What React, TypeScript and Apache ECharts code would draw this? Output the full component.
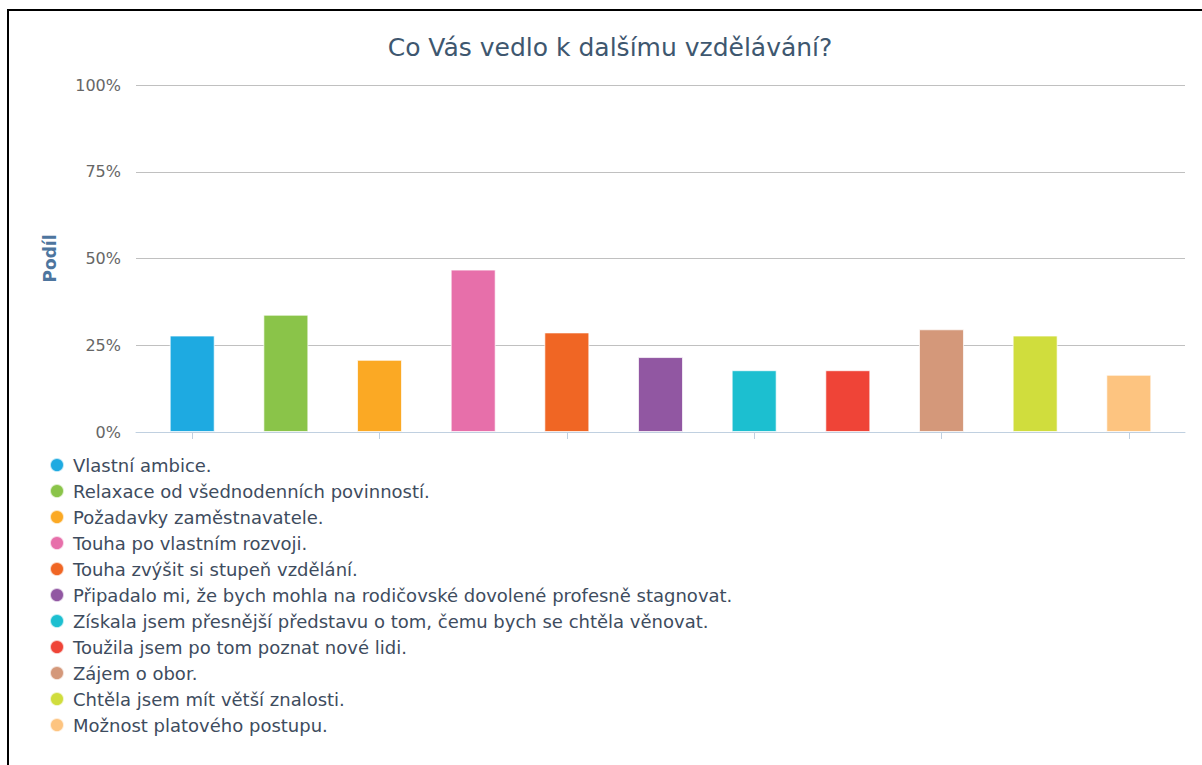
import React, { useEffect, useRef } from "react";
import * as echarts from "echarts";

const TITLE = "Co Vás vedlo k dalšímu vzdělávání?";
const Y_NAME = "Podíl";
const categories = [
  "Vlastní ambice.",
  "Relaxace od všednodenních povinností.",
  "Požadavky zaměstnavatele.",
  "Touha po vlastním rozvoji.",
  "Touha zvýšit si stupeň vzdělání.",
  "Připadalo mi, že bych mohla na rodičovské dovolené profesně stagnovat.",
  "Získala jsem přesnější představu o tom, čemu bych se chtěla věnovat.",
  "Toužila jsem po tom poznat nové lidi.",
  "Zájem o obor.",
  "Chtěla jsem mít větší znalosti.",
  "Možnost platového postupu.",
];
const values = [27.8, 33.8, 20.8, 46.8, 28.7, 21.6, 17.8, 17.8, 29.6, 27.8, 16.5];
const yTicks = [0, 25, 50, 75, 100];
const xTickValues = [0, 2, 4, 6, 8, 10];
const palette = [
  "#1EAAE1",
  "#8AC449",
  "#FBA924",
  "#E76FAA",
  "#F06624",
  "#9157A2",
  "#1CBFD0",
  "#EF4437",
  "#D4987A",
  "#D0DD3D",
  "#FDC480",
];

const FONT = "DejaVu Sans, sans-serif";

export default function App() {
  const ref = useRef<HTMLDivElement>(null);
  useEffect(() => {
    if (!ref.current) return;
    const chart = echarts.init(ref.current, null, { renderer: "svg" });
    chart.setOption({
      animation: false,
      backgroundColor: "#ffffff",
      title: {
        text: TITLE,
        left: 605,
        textAlign: "center",
        top: 30,
        textStyle: {
          fontFamily: FONT,
          fontSize: 25,
          fontWeight: "normal",
          color: "#3E576F",
        },
      },
      legend: {
        orient: "vertical",
        left: 49,
        top: 456,
        padding: 0,
        icon: "circle",
        itemWidth: 14,
        itemHeight: 14,
        itemGap: 8,
        data: categories,
        textStyle: {
          fontFamily: FONT,
          fontSize: 18,
          lineHeight: 18,
          color: "#3E4C5E",
          padding: [0, 0, 0, 4],
        },
      },
      grid: {
        left: 136,
        right: 17,
        top: 85,
        bottom: 333,
        containLabel: false,
      },
      xAxis: {
        type: "value",
        min: -0.6,
        max: 10.6,
        axisLabel: { show: false },
        splitLine: { show: false },
        axisLine: { show: true, lineStyle: { color: "#C0D0E0", width: 1 } },
        axisTick: {
          show: true,
          customValues: xTickValues,
          length: 7,
          lineStyle: { color: "#C0D0E0" },
        },
      },
      yAxis: {
        type: "value",
        min: yTicks[0],
        max: yTicks[yTicks.length - 1],
        interval: 25,
        name: Y_NAME,
        nameLocation: "middle",
        nameGap: 78,
        nameTextStyle: {
          fontFamily: FONT,
          fontSize: 17,
          fontWeight: "bold",
          color: "#4D759E",
        },
        axisLine: { show: false },
        axisTick: { show: false },
        axisLabel: {
          formatter: "{value}%",
          fontFamily: FONT,
          fontSize: 16,
          color: "#666666",
          margin: 15,
        },
        splitLine: { lineStyle: { color: "#C0C0C0", width: 1 } },
      },
      series: categories.map((name, i) => ({
        name,
        type: "bar",
        barWidth: 45,
        barGap: "-100%",
        data: [[i, values[i]]],
        itemStyle: {
          color: palette[i],
          borderColor: "rgba(255,255,255,0.7)",
          borderWidth: 1,
        },
      })),
    });
    return () => chart.dispose();
  }, []);
  return (
    <>
      <div
        ref={ref}
        style={{ position: "fixed", left: 0, top: 0, width: 1202, height: 765 }}
      />
      <div
        style={{
          position: "fixed",
          left: 7,
          top: 9,
          width: 1400,
          height: 1000,
          border: "2px solid #000",
          pointerEvents: "none",
          boxSizing: "border-box",
        }}
      />
    </>
  );
}
